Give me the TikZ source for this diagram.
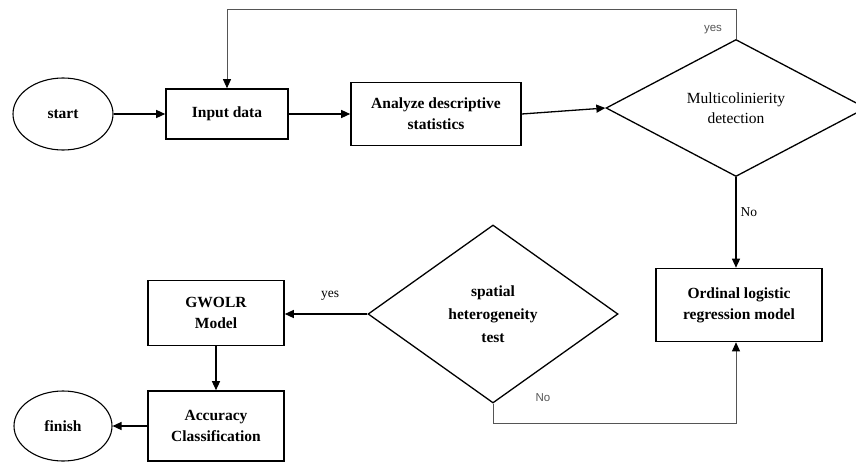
\documentclass[tikz,border=0pt]{standalone}
\usepackage{fontspec}
\setmainfont{Liberation Serif}
\newfontfamily\labelsans{Liberation Sans}
\usetikzlibrary{arrows.meta,shapes.geometric}
\definecolor{ink}{HTML}{000000}
\definecolor{rule}{HTML}{555555}
\tikzset{procbox/.style={draw=ink,line width=1.6pt,inner sep=2pt,font=\fontsize{15.5}{21}\selectfont\bfseries,align=center},termnode/.style={ellipse,draw=ink,line width=1.1pt,inner sep=0pt,font=\fontsize{15.5}{21}\selectfont\bfseries},choice/.style={diamond,draw=ink,line width=1.3pt,inner sep=0pt,align=center},flowarrow/.style={draw=ink,line width=1.3pt,-{Triangle[length=9pt,width=8pt]}},loopline/.style={draw=rule,line width=.8pt,-{Triangle[length=9pt,width=8pt,color=ink]}},greylabel/.style={font=\labelsans\fontsize{11.5}{13}\selectfont,text=rule},seriflabel/.style={font=\fontsize{13.5}{15}\selectfont}}

\begin{document}
\begin{tikzpicture}[x=1pt,y=-1pt]
\useasboundingbox (0,0) rectangle (856,463);
\node[termnode,minimum width=100pt,minimum height=72pt] (start) at (63,114) {start};
\node[procbox,minimum width=122pt,minimum height=50pt] (input) at (227,114) {Input data};
\node[procbox,minimum width=170pt,minimum height=63pt] (analyze) at (436,114) {Analyze descriptive\\statistics};
\node[choice,minimum width=260pt,minimum height=137pt,font=\fontsize{15.5}{20}\selectfont] (multi) at (736,108) {Multicolinierity\\detection};
\node[procbox,minimum width=166pt,minimum height=73pt] (ordinal) at (739,305) {Ordinal logistic\\regression model};
\node[choice,minimum width=250pt,minimum height=178pt,font=\fontsize{15.5}{23}\selectfont\bfseries] (spatial) at (493,314) {spatial\\heterogeneity\\test};
\node[procbox,minimum width=136pt,minimum height=65pt] (gwolr) at (216,313) {GWOLR\\Model};
\node[procbox,minimum width=136pt,minimum height=70pt] (accuracy) at (216,426) {Accuracy\\Classification};
\node[termnode,minimum width=98pt,minimum height=70pt] (finish) at (63,426) {finish};
\draw[flowarrow] (start) -- (input);
\draw[flowarrow] (input) -- (analyze);
\draw[flowarrow] (analyze.east) -- (multi.west);
\draw[loopline] (multi.north) -- ++(0,-29) -| (input.north);
\node[greylabel] (yesloop) at (713,30) {yes};
\draw[flowarrow] (multi.south) -- (multi.south |- ordinal.north);
\node[seriflabel,anchor=west] (nomulti) at (737,212) {No};
\draw[flowarrow] (spatial.west) -- (spatial.west -| gwolr.east);
\node[seriflabel] (yesspatial) at (330,296) {yes};
\draw[flowarrow] (gwolr) -- (accuracy);
\draw[flowarrow] (accuracy) -- (finish);
\draw[loopline] (spatial.south) -- ++(0,20) -| (multi.south |- ordinal.south);
\node[greylabel] (nospatial) at (543,398) {No};
\end{tikzpicture}
\end{document}
